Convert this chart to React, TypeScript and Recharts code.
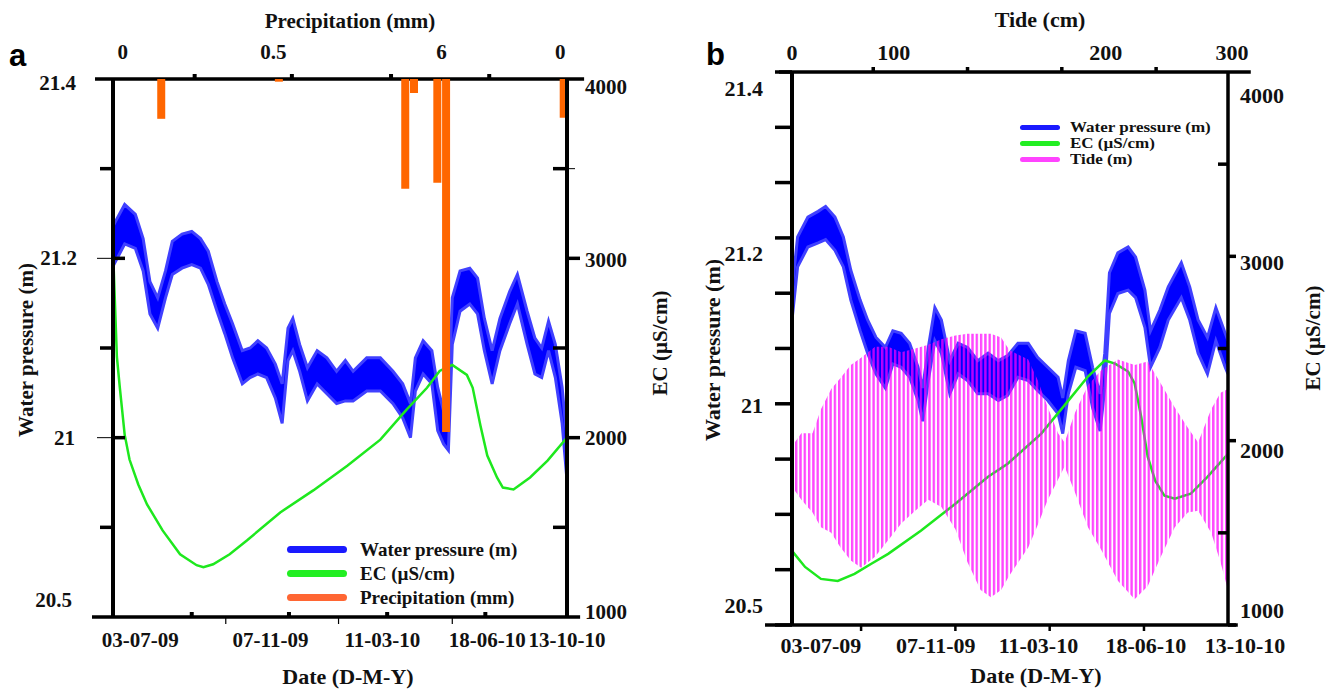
import { Area, Bar, ComposedChart, Line, ReferenceLine, XAxis, YAxis } from 'recharts'

const serif = "'Times New Roman', 'Liberation Serif', serif"

// x values are days counted from 03-07-09 (record start) to 13-10-10 (day 467)
const dateLabels = ['03-07-09', '07-11-09', '11-03-10', '18-06-10', '13-10-10']
const rainAxisLabels = ['0', '0.5', '6', '0']
const tideAxisLabels = ['0', '100', '200', '300']
const pressureLabels = ['21.4', '21.2', '21', '20.5']
const ecLabels = ['4000', '3000', '2000', '1000']

// ---- panel a ----
const aPressureDays = [0, 12, 23, 31, 38, 46, 54, 61, 71, 81, 90, 98, 107, 115, 123, 133, 141, 149, 158, 167, 174, 180, 185, 192, 200, 210, 220, 230, 239, 247, 261, 275, 288, 298, 306, 311, 319, 328, 334, 340, 345, 349, 357, 367, 375, 382, 390, 398, 408, 416, 426, 434, 441, 448, 455, 462, 467]
const aPressureLow = [21.191, 21.216, 21.211, 21.186, 21.138, 21.122, 21.156, 21.182, 21.189, 21.193, 21.189, 21.171, 21.141, 21.116, 21.089, 21.06, 21.067, 21.071, 21.067, 21.044, 21.016, 21.086, 21.097, 21.074, 21.041, 21.06, 21.049, 21.038, 21.041, 21.041, 21.052, 21.052, 21.038, 21.022, 21.0, 21.052, 21.071, 21.06, 21.008, 20.993, 20.986, 21.104, 21.141, 21.149, 21.138, 21.097, 21.06, 21.097, 21.127, 21.149, 21.104, 21.071, 21.067, 21.097, 21.067, 21.016, 20.952]
const aPressureHigh = [21.236, 21.26, 21.249, 21.222, 21.174, 21.156, 21.186, 21.219, 21.227, 21.23, 21.222, 21.208, 21.174, 21.149, 21.127, 21.097, 21.1, 21.108, 21.1, 21.082, 21.06, 21.122, 21.133, 21.104, 21.078, 21.097, 21.089, 21.074, 21.086, 21.074, 21.089, 21.089, 21.074, 21.06, 21.038, 21.089, 21.108, 21.097, 21.056, 21.03, 21.041, 21.156, 21.186, 21.189, 21.178, 21.133, 21.097, 21.133, 21.163, 21.182, 21.141, 21.111, 21.1, 21.13, 21.104, 21.056, 20.997]

const aEcDays = [0, 2, 4, 7, 12, 17, 26, 35, 51, 69, 86, 93, 103, 120, 138, 172, 206, 241, 275, 302, 323, 336, 349, 364, 370, 378, 385, 395, 401, 412, 429, 447, 467]
const aEcValues = [3050, 2750, 2450, 2280, 2017, 1878, 1739, 1628, 1483, 1350, 1289, 1278, 1294, 1350, 1428, 1583, 1706, 1844, 1989, 2156, 2278, 2372, 2406, 2350, 2278, 2067, 1900, 1778, 1722, 1711, 1778, 1872, 2000]

const aRainDays = [50, 171, 301, 310, 334, 343, 464]
const aRainValues = [0.74, 0.05, 2.04, 0.26, 1.93, 6.56, 0.72]

// ---- panel b ----
const bPressureDays = [0, 6, 17, 28, 36, 46, 55, 63, 73, 81, 90, 100, 108, 117, 126, 135, 140, 146, 153, 160, 169, 178, 188, 199, 210, 221, 231, 242, 253, 263, 274, 285, 290, 296, 304, 314, 322, 330, 335, 340, 349, 360, 368, 378, 384, 394, 403, 417, 426, 435, 445, 454, 464, 467]
const bPressureLow = [21.101, 21.165, 21.189, 21.194, 21.198, 21.185, 21.165, 21.125, 21.088, 21.061, 21.036, 21.019, 21.048, 21.044, 21.032, 21.004, 20.979, 21.028, 21.076, 21.061, 21.012, 21.036, 21.028, 21.012, 21.012, 21.004, 21.01, 21.032, 21.028, 21.016, 21.004, 20.988, 20.964, 21.012, 21.044, 21.04, 20.995, 20.967, 21.019, 21.109, 21.133, 21.137, 21.128, 21.092, 21.044, 21.068, 21.101, 21.128, 21.101, 21.061, 21.036, 21.076, 21.044, 21.036]
const bPressureHigh = [21.137, 21.201, 21.225, 21.232, 21.238, 21.225, 21.201, 21.161, 21.125, 21.101, 21.08, 21.068, 21.088, 21.085, 21.073, 21.044, 21.019, 21.068, 21.116, 21.101, 21.052, 21.073, 21.068, 21.052, 21.061, 21.052, 21.058, 21.073, 21.073, 21.056, 21.044, 21.032, 21.007, 21.052, 21.088, 21.085, 21.044, 21.012, 21.061, 21.158, 21.182, 21.189, 21.177, 21.137, 21.088, 21.113, 21.141, 21.17, 21.141, 21.101, 21.08, 21.116, 21.085, 21.076]

const bEcDays = [0, 14, 31, 49, 67, 85, 103, 138, 175, 210, 231, 267, 296, 317, 335, 346, 360, 367, 374, 381, 389, 399, 410, 427, 445, 467]
const bEcValues = [1402, 1315, 1250, 1239, 1277, 1332, 1386, 1511, 1658, 1804, 1875, 2038, 2217, 2348, 2435, 2418, 2375, 2310, 2130, 1913, 1783, 1701, 1685, 1712, 1804, 1929]

const bTideDays = [0, 10, 22, 31, 42, 52, 63, 74, 89, 103, 117, 132, 146, 160, 175, 188, 202, 213, 224, 233, 253, 263, 274, 285, 292, 303, 317, 331, 349, 367, 381, 395, 410, 424, 435, 449, 459, 467]
const bTideLow = [75, 68, 61, 53, 50, 42, 35, 31, 37, 46, 55, 62, 68, 64, 52, 34, 19, 15, 19, 27, 42, 54, 68, 79, 86, 72, 53, 41, 24, 14, 21, 37, 53, 61, 62, 50, 34, 19]
const bTideHigh = [97, 104, 104, 117, 128, 134, 141, 145, 151, 151, 148, 150, 152, 155, 157, 158, 158, 158, 156, 149, 144, 133, 118, 104, 99, 115, 130, 138, 144, 141, 143, 131, 118, 107, 99, 117, 126, 128]

// tables for the library
const band = (days: number[], lo: number[], hi: number[]) =>
  days.map((day, i) => ({ day, range: [lo[i], hi[i]] }))
const series = (days: number[], vals: number[]) =>
  days.map((day, i) => ({ day, value: vals[i] }))

const aPressure = band(aPressureDays, aPressureLow, aPressureHigh)
const aEc = series(aEcDays, aEcValues)
const aRain = series(aRainDays, aRainValues)
const bPressure = band(bPressureDays, bPressureLow, bPressureHigh)
const bEc = series(bEcDays, bEcValues)
const bTide = band(bTideDays, bTideLow, bTideHigh)

type TickSpec = {
  at: number
  text?: string
  dx?: number
  dy?: number
  out?: number
  outW?: number
  inn?: number
  innW?: number
}

// axis ticks of the figure: labels and tick marks do not sit at the same places
const aBottomTicks: TickSpec[] = [
  ...[28, 162, 277, 385, 467].map((at, i) => ({ at, text: dateLabels[i], dy: 23 })),
  ...[81, 181, 282, 383].map((at) => ({ at, inn: 5, innW: 4 })),
  ...[116, 232, 349].map((at) => ({ at, out: 7, outW: 1.2 })),
]
const aTopTicks: TickSpec[] = [
  ...[10, 165, 338, 460].map((at, i) => ({ at, text: rainAxisLabels[i], dy: -27 })),
  ...[84, 184, 286, 387].map((at) => ({ at, out: 5, outW: 4 })),
]
const aLeftTicks: TickSpec[] = [
  { at: 21.4, text: pressureLabels[0], dx: -37, dy: 4 },
  { at: 21.3, out: 13 },
  { at: 21.2, text: pressureLabels[1], dx: -36, out: 16, outW: 1, inn: 12 },
  { at: 21.1, out: 13 },
  { at: 21.0, text: pressureLabels[2], dx: -38, out: 16, outW: 1, inn: 12 },
  { at: 20.9, out: 13 },
  { at: 20.8, text: pressureLabels[3], dx: -41, dy: -17 },
]
const aRightTicks: TickSpec[] = [
  { at: 4000, text: ecLabels[0], dx: 18, dy: 8 },
  { at: 3500, inn: 14, out: 8, outW: 1 },
  { at: 3000, text: ecLabels[1], dx: 18, dy: 2, out: 13 },
  { at: 2500, inn: 14 },
  { at: 2000, text: ecLabels[2], dx: 18, out: 13 },
  { at: 1500, inn: 14 },
  { at: 1000, text: ecLabels[3], dx: 18, dy: -5 },
]

const bBottomTicks: TickSpec[] = [
  ...[31, 154, 264, 379, 467].map((at, i) => ({ at, text: dateLabels[i], dy: 20, dx: i === 4 ? 17 : 0 })),
  ...[74, 175, 276, 377].map((at) => ({ at, out: 6, outW: 2.5 })),
]
const bTopTicks: TickSpec[] = [
  ...[0, 109, 336, 467].map((at, i) => ({ at, text: tideAxisLabels[i], dy: -20, dx: i === 3 ? 4 : 0 })),
  ...[87, 188, 289, 390].map((at) => ({ at, out: 5, outW: 3.5 })),
]
const bLeftValues = [21.4, 21.3333, 21.2667, 21.2, 21.1333, 21.0667, 21.0, 20.9333, 20.8667, 20.8, 20.7333]
const bLeftText: Record<number, [string, number]> = {
  0: [pressureLabels[0], 16],
  3: [pressureLabels[1], 16],
  6: [pressureLabels[2], 2],
  10: [pressureLabels[3], -20],
}
const bLeftTicks: TickSpec[] = bLeftValues.map((at, i) => ({
  at,
  out: 17,
  ...(bLeftText[i] ? { text: bLeftText[i][0], dy: bLeftText[i][1], dx: -29 } : {}),
}))
const bRightTicks: TickSpec[] = [
  { at: 4000, text: ecLabels[0], dx: 12, dy: 23 },
  { at: 3500, inn: 10 },
  { at: 3000, text: ecLabels[1], dx: 12, dy: 6, out: 8 },
  { at: 2500, inn: 10 },
  { at: 2000, text: ecLabels[2], dx: 12, dy: 10, out: 8 },
  { at: 1500, inn: 10 },
  { at: 1000, text: ecLabels[3], dx: 12, dy: -15, out: 8 },
]

function AxisTick({ x, y, payload, specs, side, fontSize }: any) {
  const spec: TickSpec | undefined = specs.find((s: TickSpec) => Math.abs(s.at - payload.value) < 1e-6)
  if (!spec) return null
  const sign = side === 'bottom' || side === 'right' ? 1 : -1
  const vertical = side === 'top' || side === 'bottom'
  const seg = (len: number, w: number) =>
    vertical ? (
      <line x1={x} x2={x} y1={y} y2={y + sign * len} stroke="#000" strokeWidth={w} />
    ) : (
      <line y1={y} y2={y} x1={x} x2={x + sign * len} stroke="#000" strokeWidth={w} />
    )
  const anchor = vertical ? 'middle' : side === 'left' ? 'end' : 'start'
  return (
    <g>
      {spec.out ? seg(spec.out, spec.outW ?? 3.5) : null}
      {spec.inn ? seg(-spec.inn, spec.innW ?? 3.5) : null}
      {spec.text ? (
        <text
          x={x + (spec.dx ?? 0)}
          y={y + (spec.dy ?? 0)}
          textAnchor={anchor}
          dominantBaseline="central"
          fontFamily={serif}
          fontWeight="bold"
          fontSize={fontSize}
          fill="#111"
        >
          {spec.text}
        </text>
      ) : null}
    </g>
  )
}

const tickProps = (specs: TickSpec[], side: string, fontSize: number) => ({
  ticks: specs.map((s) => s.at),
  interval: 0 as const,
  tickSize: 0,
  tickMargin: 0,
  tickLine: false,
  allowDataOverflow: true,
  tick: (p: any) => <AxisTick {...p} specs={specs} side={side} fontSize={fontSize} />,
})

const blue = '#0000ff'
const green = '#1ee81e'
const orange = '#ff6600'

function PanelA() {
  return (
    <div style={{ position: 'absolute', left: 0, top: 0 }}>
      <ComposedChart width={666} height={689} data={aRain} margin={{ top: 49, right: 39, bottom: 42, left: 53 }}>
        <XAxis xAxisId="bottom" dataKey="day" type="number" domain={[0, 467]} height={30} axisLine={false} {...tickProps(aBottomTicks, 'bottom', 21)} />
        <XAxis xAxisId="top" orientation="top" dataKey="day" type="number" domain={[0, 467]} height={30} axisLine={false} {...tickProps(aTopTicks, 'top', 21)} />
        <XAxis xAxisId="rain" orientation="top" dataKey="day" type="number" domain={[0, 467]} allowDataOverflow height={0} hide />
        <YAxis yAxisId="wp" type="number" domain={[20.8, 21.4]} width={60} axisLine={{ stroke: '#000', strokeWidth: 4 }} {...tickProps(aLeftTicks, 'left', 21)} />
        <YAxis yAxisId="ec" orientation="right" type="number" domain={[1000, 4000]} width={60} axisLine={{ stroke: '#000', strokeWidth: 4 }} {...tickProps(aRightTicks, 'right', 21)} />
        <YAxis yAxisId="rain" orientation="right" type="number" domain={[0, 10]} reversed allowDataOverflow width={0} hide />
        <ReferenceLine xAxisId="bottom" yAxisId="wp" ifOverflow="visible" stroke="#000" strokeWidth={3.5}
          segment={[{ x: -21.6, y: 20.8 }, { x: 480.5, y: 20.8 }]} />
        <ReferenceLine xAxisId="bottom" yAxisId="wp" ifOverflow="visible" stroke="#000" strokeWidth={3.5}
          segment={[{ x: -18.5, y: 21.4 }, { x: 484.6, y: 21.4 }]} />
        <Area xAxisId="bottom" yAxisId="wp" data={aPressure} dataKey="range" name="Water pressure (m)" type="linear"
          fill={blue} fillOpacity={1} stroke="#4040ff" strokeWidth={3} dot={false} activeDot={false} isAnimationActive={false} />
        <Line xAxisId="bottom" yAxisId="ec" data={aEc} dataKey="value" name="EC (µS/cm)" type="linear"
          stroke={green} strokeWidth={2.5} dot={false} activeDot={false} isAnimationActive={false} />
        <Bar xAxisId="rain" yAxisId="rain" dataKey="value" name="Precipitation (mm)" barSize={8} fill={orange}
          zIndex={450} isAnimationActive={false} />
      </ComposedChart>
    </div>
  )
}

function PanelB() {
  return (
    <div style={{ position: 'absolute', left: 666, top: 0 }}>
      <ComposedChart width={667} height={689} margin={{ top: 42, right: 45, bottom: 34, left: 66 }}>
        <defs>
          <pattern id="tideStripes" patternUnits="userSpaceOnUse" width={4.3} height={10}>
            <rect x={0} y={0} width={2.4} height={10} fill="#ff00ff" fillOpacity={0.72} />
          </pattern>
        </defs>
        <XAxis xAxisId="bottom" dataKey="day" type="number" domain={[0, 467]} height={30} axisLine={false} {...tickProps(bBottomTicks, 'bottom', 22)} />
        <XAxis xAxisId="top" orientation="top" dataKey="day" type="number" domain={[0, 467]} height={30} axisLine={false} {...tickProps(bTopTicks, 'top', 22)} />
        <YAxis yAxisId="wp" type="number" domain={[20.7333, 21.4]} width={60} axisLine={{ stroke: '#000', strokeWidth: 4 }} {...tickProps(bLeftTicks, 'left', 22)} />
        <YAxis yAxisId="ec" orientation="right" type="number" domain={[1000, 4000]} width={60} axisLine={{ stroke: '#000', strokeWidth: 3.5 }} {...tickProps(bRightTicks, 'right', 22)} />
        <YAxis yAxisId="tide" orientation="right" type="number" domain={[0, 300]} allowDataOverflow width={0} hide />
        <ReferenceLine xAxisId="bottom" yAxisId="wp" ifOverflow="visible" stroke="#000" strokeWidth={3.5}
          segment={[{ x: -28.9, y: 20.7333 }, { x: 477.5, y: 20.7333 }]} />
        <ReferenceLine xAxisId="bottom" yAxisId="wp" ifOverflow="visible" stroke="#000" strokeWidth={3.5}
          segment={[{ x: -13.9, y: 21.4 }, { x: 491.4, y: 21.4 }]} />
        <Area xAxisId="bottom" yAxisId="wp" data={bPressure} dataKey="range" name="Water pressure (m)" type="linear"
          fill={blue} fillOpacity={1} stroke="#4040ff" strokeWidth={3} dot={false} activeDot={false} isAnimationActive={false} />
        <Line xAxisId="bottom" yAxisId="ec" data={bEc} dataKey="value" name="EC (µS/cm)" type="linear"
          stroke={green} strokeWidth={2.5} dot={false} activeDot={false} isAnimationActive={false} />
        <Area xAxisId="bottom" yAxisId="tide" data={bTide} dataKey="range" name="Tide (m)" type="linear"
          fill="url(#tideStripes)" fillOpacity={1} stroke="none" dot={false} activeDot={false}
          zIndex={450} isAnimationActive={false} />
      </ComposedChart>
    </div>
  )
}

function AxisTitle({ text, x, y, size, rotate }: { text: string; x: number; y: number; size: number; rotate?: boolean }) {
  return (
    <div
      style={{
        position: 'absolute',
        left: x,
        top: y,
        transform: `translate(-50%, -50%)${rotate ? ' rotate(-90deg)' : ''}`,
        fontFamily: serif,
        fontWeight: 'bold',
        fontSize: size,
        lineHeight: 1,
        whiteSpace: 'nowrap',
        color: '#111',
      }}
    >
      {text}
    </div>
  )
}

function LegendBlock({ items, left, top, gap, swatchW, swatchH, textLeft, fontSize, squeeze = 1 }: {
  items: { label: string; color: string }[]
  left: number
  top: number
  gap: number
  swatchW: number
  swatchH: number
  textLeft: number
  fontSize: number
  squeeze?: number
}) {
  return (
    <div style={{ position: 'absolute', left, top }}>
      {items.map((it, i) => (
        <div key={it.label} style={{ position: 'absolute', left: 0, top: i * gap - 12, height: 24, display: 'flex', alignItems: 'center', whiteSpace: 'nowrap' }}>
          <span style={{ display: 'inline-block', width: swatchW, height: swatchH, borderRadius: swatchH / 2, background: it.color }} />
          <span
            style={{
              display: 'inline-block',
              marginLeft: textLeft - swatchW,
              fontFamily: serif,
              fontWeight: 'bold',
              fontSize,
              lineHeight: 1,
              color: '#111',
              transform: `scaleY(${squeeze})`,
            }}
          >
            {it.label}
          </span>
        </div>
      ))}
    </div>
  )
}

const letterStyle = {
  position: 'absolute' as const,
  fontFamily: 'Arial, "Liberation Sans", sans-serif',
  fontWeight: 'bold' as const,
  fontSize: 31,
  lineHeight: 1,
}

export default function App() {
  return (
    <div style={{ position: 'absolute', left: 0, top: 0, width: 1333, height: 689, background: '#fff', overflow: 'hidden' }}>
      <PanelA />
      <PanelB />
      <div style={{ ...letterStyle, left: 9, top: 40 }}>a</div>
      <div style={{ ...letterStyle, left: 706, top: 39 }}>b</div>

      <AxisTitle text="Precipitation (mm)" x={350} y={21} size={21} />
      <AxisTitle text="Water pressure (m)" x={26} y={350} size={21} rotate />
      <AxisTitle text="EC (µS/cm)" x={660} y={343} size={21} rotate />
      <AxisTitle text="Date (D-M-Y)" x={348} y={677} size={22} />

      <AxisTitle text="Tide (cm)" x={1040} y={20} size={22} />
      <AxisTitle text="Water pressure (m)" x={713} y={350} size={22} rotate />
      <AxisTitle text="EC (µS/cm)" x={1313} y={338} size={21} rotate />
      <AxisTitle text="Date (D-M-Y)" x={1036} y={676} size={22} />

      <LegendBlock
        items={[
          { label: 'Water pressure (m)', color: '#1a1aff' },
          { label: 'EC (µS/cm)', color: '#22ee22' },
          { label: 'Precipitation (mm)', color: '#ff6633' },
        ]}
        left={287} top={549} gap={24} swatchW={60} swatchH={7} textLeft={73} fontSize={19}
      />
      <LegendBlock
        items={[
          { label: 'Water pressure (m)', color: '#1a1aff' },
          { label: 'EC (µS/cm)', color: '#22ee22' },
          { label: 'Tide (m)', color: '#ff44ff' },
        ]}
        left={1020} top={127} gap={16} swatchW={40} swatchH={5} textLeft={50} fontSize={17} squeeze={0.86}
      />
    </div>
  )
}
